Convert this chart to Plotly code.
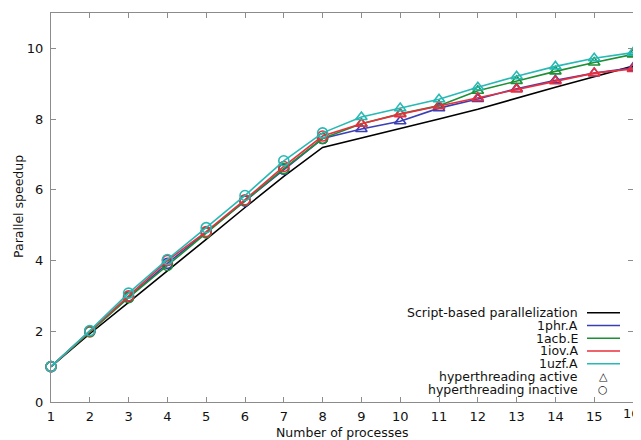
import plotly.graph_objects as go

processes = list(range(1, 17))
script_based = [1, 1.93, 2.82, 3.70, 4.60, 5.50, 6.38, 7.20, 7.46, 7.72, 8.00, 8.28, 8.60, 8.90, 9.20, 9.50]
phr_1A = [1, 2.00, 2.96, 3.92, 4.80, 5.68, 6.58, 7.45, 7.72, 7.94, 8.31, 8.57, 8.86, 9.10, 9.30, 9.45]
acb_1E = [1, 1.98, 2.95, 3.86, 4.78, 5.70, 6.60, 7.45, 7.87, 8.15, 8.38, 8.80, 9.08, 9.35, 9.60, 9.83]
iov_1A = [1, 2.00, 3.00, 4.00, 4.82, 5.72, 6.66, 7.52, 7.87, 8.14, 8.37, 8.60, 8.84, 9.07, 9.30, 9.42]
uzf_1A = [1, 2.02, 3.08, 4.03, 4.93, 5.84, 6.82, 7.61, 8.06, 8.31, 8.56, 8.90, 9.21, 9.49, 9.72, 9.88]
hyperthreading_from = 9  # processes > 8 use hyperthreading

legend_labels = ["Script-based parallelization", "1phr.A", "1acb.E", "1iov.A", "1uzf.A",
                 "hyperthreading active", "hyperthreading inactive"]
x_title = "Number of processes"
y_title = "Parallel speedup"

colors = ["#000000", "#3b3fb4", "#1d8f35", "#ea2f3d", "#27b9b5"]
FONT = "DejaVu Sans"
TXT = "#111111"

symbols = ["triangle-up-open" if p >= hyperthreading_from else "circle-open" for p in processes]

fig = go.Figure()
fig.add_trace(go.Scatter(x=processes, y=script_based, mode="lines",
                         line=dict(color=colors[0], width=1.6), showlegend=False))
for vals, col in zip([phr_1A, acb_1E, iov_1A, uzf_1A], colors[1:]):
    fig.add_trace(go.Scatter(x=processes, y=vals, mode="lines+markers",
                             line=dict(color=col, width=1.6),
                             marker=dict(symbol=symbols, size=10, color=col,
                                         line=dict(color=col, width=1.6)),
                             showlegend=False, cliponaxis=False))

# the page body adds an 8px offset; work in window pixels and subtract it
OFF = 8
W, H = 641 - OFF, 440 - OFF
x0, x1 = 51 - OFF, 633 - OFF
y0, y1 = 13 - OFF, 402 - OFF
def px(x):
    return (x - OFF - x0) / (x1 - x0)
def py(y):
    return (y1 - (y - OFF)) / (y1 - y0)

annotations = []
shapes = []
ROW = 12.75
for i, lab in enumerate(legend_labels):
    yy = 312.7 + ROW * i
    annotations.append(dict(x=px(580), y=py(yy), xref="paper", yref="paper", text=lab,
                            showarrow=False, xanchor="right", yanchor="middle",
                            font=dict(family=FONT, size=12.5, color=TXT)))
    if i < 5:
        shapes.append(dict(type="line", xref="paper", yref="paper",
                           x0=px(587), x1=px(620), y0=py(yy), y1=py(yy),
                           line=dict(color=colors[i], width=1.6)))
    else:
        sym = "△" if i == 5 else "○"
        annotations.append(dict(x=px(603), y=py(yy), xref="paper", yref="paper", text=sym,
                                showarrow=False, xanchor="center", yanchor="middle",
                                font=dict(family=FONT, size=11, color=TXT)))

# last x tick label (at the figure's right edge, as in the original)
annotations.append(dict(x=px(642), y=py(413), xref="paper", yref="paper",
                        text=str(processes[-1]), showarrow=False, xanchor="right",
                        yanchor="middle", font=dict(family=FONT, size=13, color=TXT)))

# axis titles
annotations.append(dict(x=0.5, y=py(432), xref="paper", yref="paper", text=x_title,
                        showarrow=False, xanchor="center", yanchor="middle",
                        font=dict(family=FONT, size=12.5, color=TXT)))
annotations.append(dict(x=px(18), y=py(207), xref="paper", yref="paper", text=y_title,
                        showarrow=False, xanchor="center", yanchor="middle", textangle=-90,
                        font=dict(family=FONT, size=12.5, color=TXT)))

axis_common = dict(showline=True, linecolor="#8c8c8c", linewidth=1, mirror="allticks",
                   ticks="inside", ticklen=5, tickcolor="#8c8c8c", showgrid=False,
                   zeroline=False, automargin=False,
                   tickfont=dict(family=FONT, size=13, color=TXT))

fig.update_layout(
    width=W, height=H,
    margin=dict(l=x0, r=W - x1, t=y0, b=H - y1, autoexpand=False),
    paper_bgcolor="white", plot_bgcolor="white",
    xaxis=dict(range=[1, 16], tickmode="linear", tick0=1, dtick=1, ticklabelstandoff=2,
               **axis_common),
    yaxis=dict(range=[0, 11], tickmode="array", tickvals=[0, 2, 4, 6, 8, 10],
               ticklabelstandoff=4, **axis_common),
    annotations=annotations, shapes=shapes,
)

fig.write_html("out.html")
